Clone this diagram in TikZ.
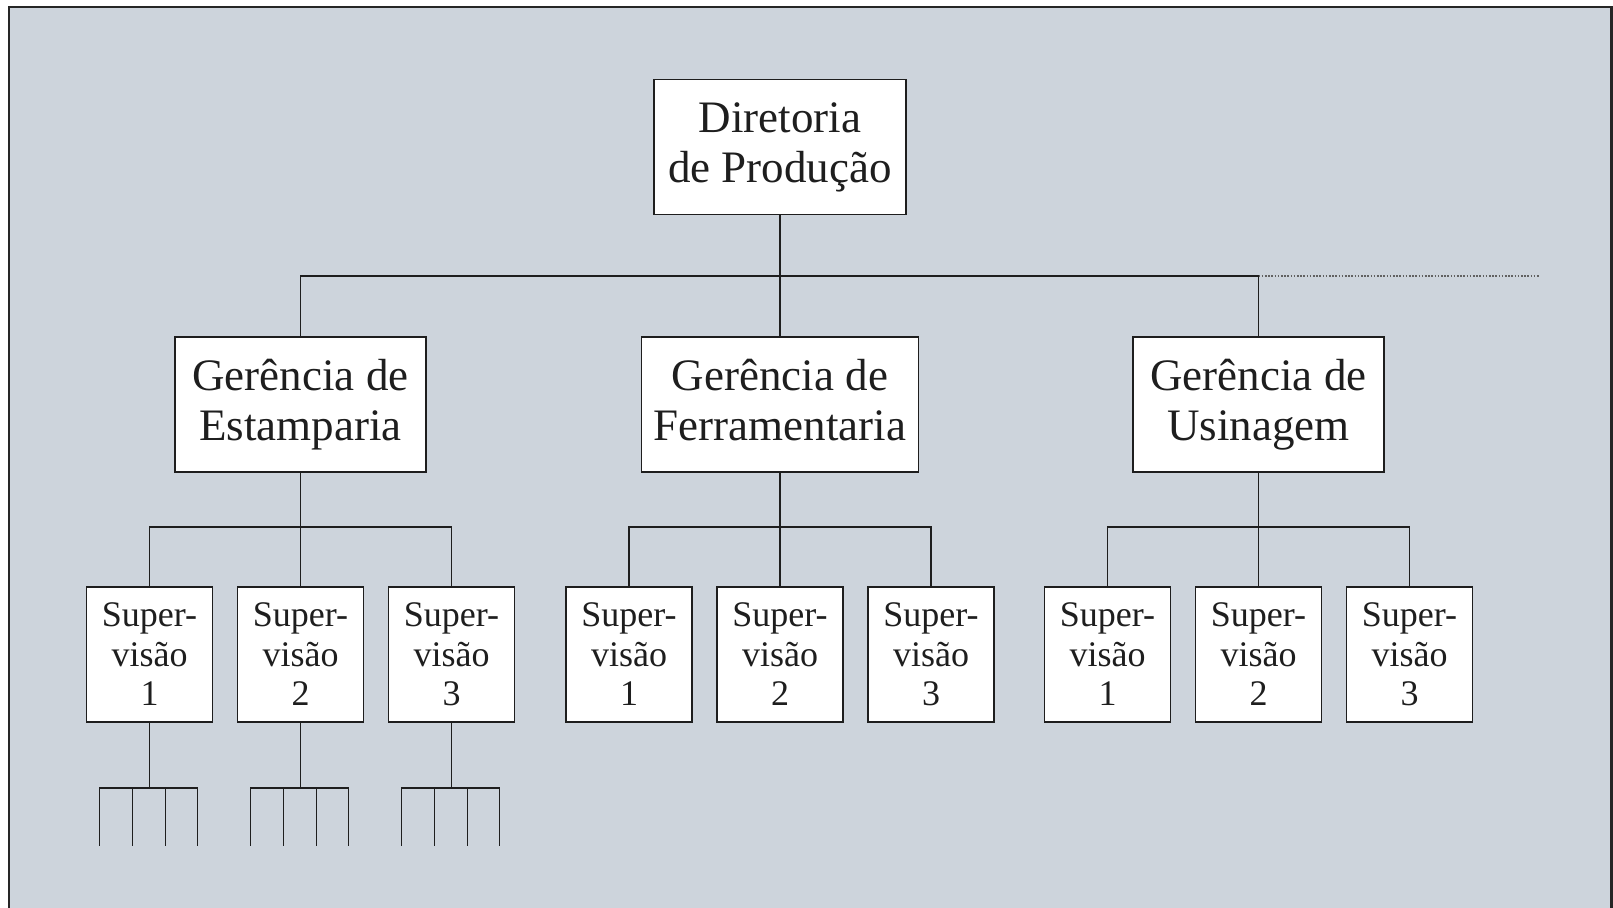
\documentclass[tikz,border=0pt]{standalone}
\usepackage{fontspec}
\setmainfont{Liberation Serif}
\usetikzlibrary{calc}
\definecolor{bg}{RGB}{205,212,220}
\definecolor{ink}{RGB}{30,30,30}
\begin{document}
\begin{tikzpicture}[x=1pt,y=-1pt,
  box/.style={draw=ink, fill=white, line width=1.8pt, inner sep=0pt, align=center, text=ink},
  bigbox/.style={box, minimum height=135pt, font=\fontsize{45}{50}\selectfont},
  supbox/.style={box, minimum width=126pt, minimum height=135pt, font=\fontsize{36}{39.5}\selectfont},
  conn/.style={draw=ink, line width=1.8pt},
  dots/.style={draw=ink!70, line width=1.6pt, dash pattern=on 1.6pt off 1.6pt}]
\useasboundingbox (0,0) rectangle (1613,907);
\fill[white] (0,0) rectangle (1613,907);
\fill[bg] (9,7) rectangle (1613,920);
\draw[line width=2.6pt, draw=black!85] (9,920) -- (9,7) -- (1611.7,7) -- (1611.7,920);

% top
\node[bigbox, minimum width=252pt] (dir) at (780,147) {Diretoria\\de Produção};
% managers
\node[bigbox, minimum width=251pt] (gE) at (300.5,404.5) {Gerência de\\Estamparia};
\node[bigbox, minimum width=277pt] (gF) at (780,404.5) {Gerência de\\Ferramentaria\vphantom{p}};
\node[bigbox, minimum width=251pt] (gU) at (1258.5,404.5) {Gerência de\\Usinagem};

\coordinate (hub) at (dir.south |- 0,276);
\coordinate (dotend) at (1540,276);
\draw[conn] (dir.south) -- (hub);
\draw[conn] (gE.north) |- (hub) -| (gU.north);
\draw[conn] (hub) -- (gF.north);
\draw[dots] (gU.north |- hub) -- (dotend);

% supervisions
\foreach \g/\c in {E/300.5, F/780, U/1258.5}{
  \foreach \n/\dx in {1/-151, 2/0, 3/151}{
    \node[supbox] (s\g\n) at (\c+\dx,654.5) {Super-\\visão\\\n};
  }
  \coordinate (h\g) at (\c,527);
  \draw[conn] (g\g.south) -- (h\g);
  \draw[conn] (s\g1.north) |- (h\g) -| (s\g3.north);
  \draw[conn] (h\g) -- (s\g2.north);
}

% forks under the Estamparia supervisions
\foreach \n in {1,2,3}{
  \coordinate (f\n) at ($(sE\n.south)+(0,65)$);
  \coordinate (fa\n) at ($(f\n)+(-50,0)$);
  \coordinate (fb\n) at ($(f\n)+(-17,0)$);
  \coordinate (fc\n) at ($(f\n)+(16,0)$);
  \coordinate (fd\n) at ($(f\n)+(48,0)$);
  \draw[conn] (sE\n.south) -- (f\n);
  \draw[conn] ($(fa\n)+(0,58)$) -- (fa\n) -- (fd\n) -- ($(fd\n)+(0,58)$);
  \draw[conn] (fb\n) -- ($(fb\n)+(0,58)$);
  \draw[conn] (fc\n) -- ($(fc\n)+(0,58)$);
}
\end{tikzpicture}
\end{document}
